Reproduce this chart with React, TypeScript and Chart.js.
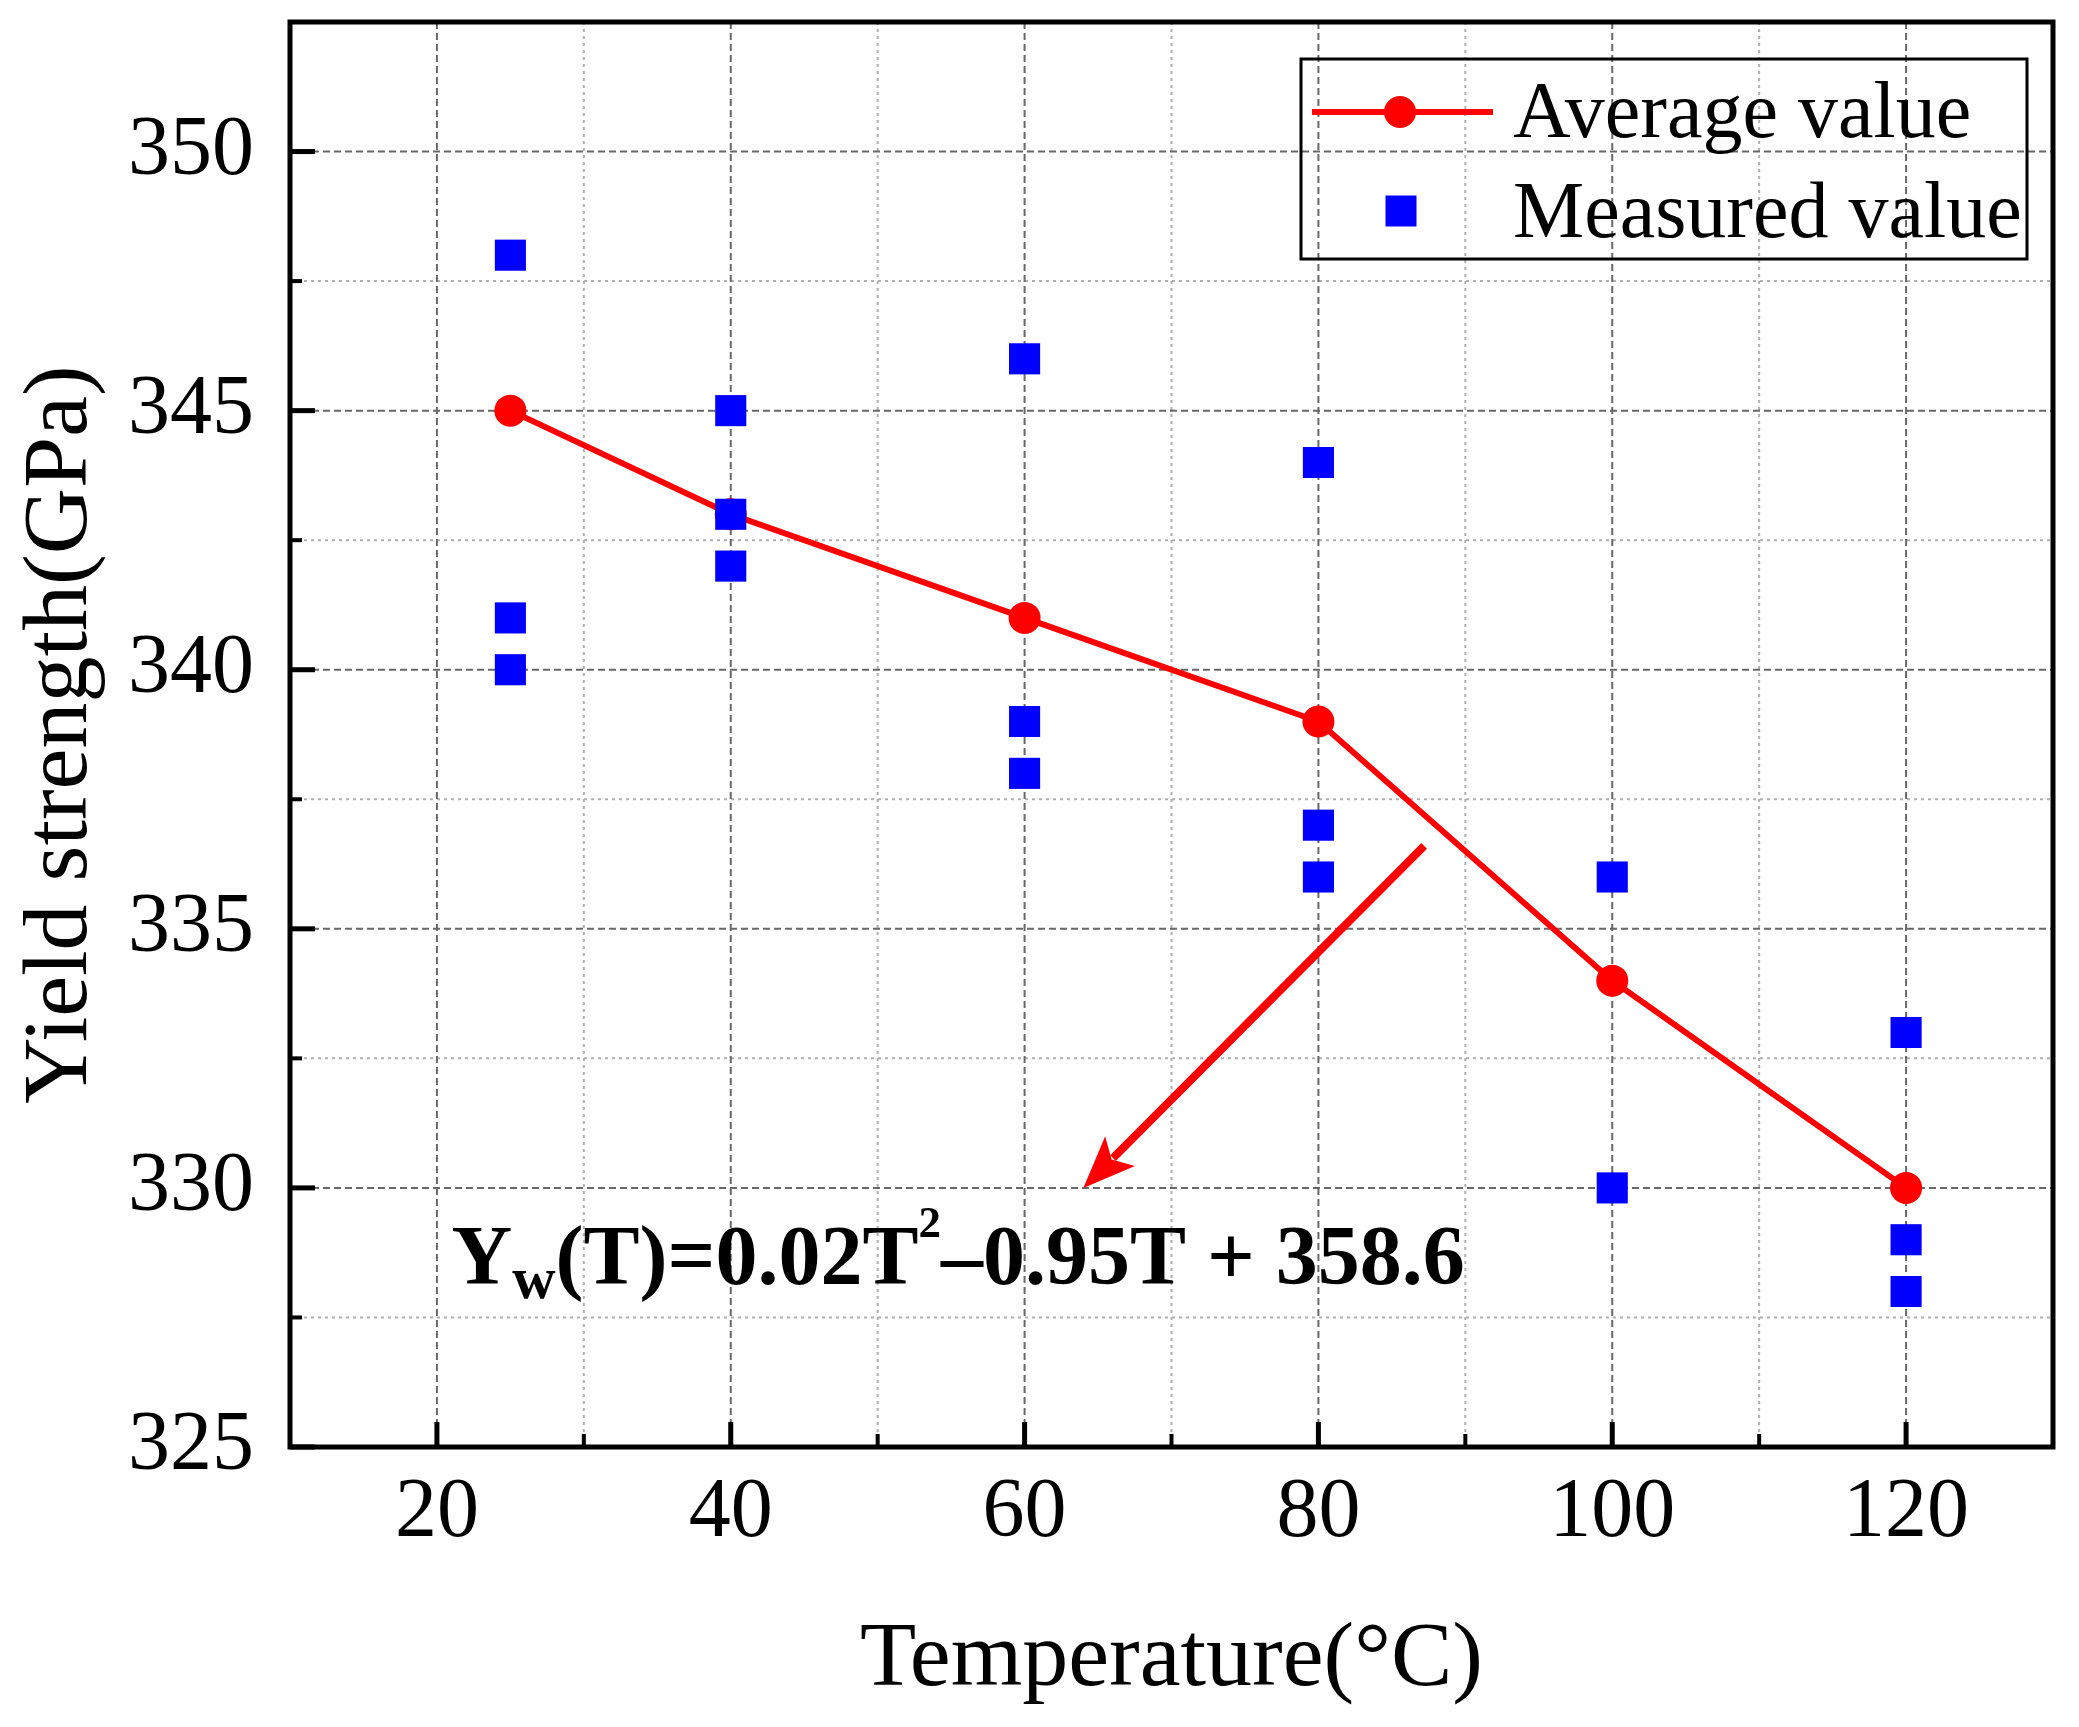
import { useEffect, useRef } from "react"
import { Chart, registerables } from "chart.js"

Chart.register(...registerables)

// Average yield strength per test temperature
const temperatures = [25, 40, 60, 80, 100, 120]
const averageValues = [345, 343, 341, 339, 334, 330]

// Individual measurements
const measuredTemperatures = [25, 25, 25, 40, 40, 40, 60, 60, 60, 80, 80, 80, 100, 100, 120, 120, 120]
const measuredValues = [348, 341, 340, 345, 343, 342, 346, 339, 338, 344, 337, 336, 336, 330, 333, 329, 328]

// Axis ticks
const xTickValues = [20, 40, 60, 80, 100, 120]
const xMinorValues = [30, 50, 70, 90, 110]
const yTickValues = [325, 330, 335, 340, 345, 350]
const yMinorValues = [327.5, 332.5, 337.5, 342.5, 347.5]

// Fit equation and arrow (data units)
const equationParts = [
  { text: "Y", size: 84, dy: 0 },
  { text: "w", size: 60, dy: 14 },
  { text: "(T)=0.02T", size: 84, dy: 0 },
  { text: "2", size: 45, dy: -47 },
  { text: "–0.95T + 358.6", size: 84, dy: 0 },
]
const equationAt = { x: 21, y: 328.15 }
const arrowFrom = { x: 87.2, y: 336.6 }
const arrowTo = { x: 64, y: 330 }

const serif = "'Liberation Serif', 'Times New Roman', Times, serif"
const RED = "#ff0000"
const BLUE = "#0000ff"

const decorations = {
  id: "decorations",
  beforeDatasetsDraw(chart: any) {
    const { ctx, chartArea: a, scales } = chart
    const xs = scales.x
    const ys = scales.y
    ctx.save()
    ctx.beginPath()
    ctx.rect(a.left, a.top, a.right - a.left, a.bottom - a.top)
    ctx.clip()
    ctx.lineWidth = 2
    const vLine = (v: number) => {
      const px = xs.getPixelForValue(v)
      ctx.beginPath()
      ctx.moveTo(px, a.top)
      ctx.lineTo(px, a.bottom)
      ctx.stroke()
    }
    const hLine = (v: number) => {
      const py = ys.getPixelForValue(v)
      ctx.beginPath()
      ctx.moveTo(a.left, py)
      ctx.lineTo(a.right, py)
      ctx.stroke()
    }
    // minor grid
    ctx.strokeStyle = "#b0b0b0"
    ctx.setLineDash([3, 4])
    xMinorValues.forEach(vLine)
    yMinorValues.forEach(hLine)
    // major grid
    ctx.strokeStyle = "#686868"
    ctx.setLineDash([7, 4])
    xTickValues.forEach(vLine)
    yTickValues.slice(1).forEach(hLine)
    ctx.restore()
  },
  afterDatasetsDraw(chart: any) {
    const { ctx, chartArea: a, scales } = chart
    const xs = scales.x
    const ys = scales.y
    ctx.save()
    ctx.setLineDash([])
    ctx.strokeStyle = "#000"

    // inward ticks
    const tick = (px: number, py: number, dx: number, dy: number, w: number) => {
      ctx.lineWidth = w
      ctx.beginPath()
      ctx.moveTo(px, py)
      ctx.lineTo(px + dx, py + dy)
      ctx.stroke()
    }
    xTickValues.forEach((v) => tick(xs.getPixelForValue(v), a.bottom, 0, -25, 5))
    xMinorValues.forEach((v) => tick(xs.getPixelForValue(v), a.bottom, 0, -13, 4))
    yTickValues.forEach((v) => tick(a.left, ys.getPixelForValue(v), 25, 0, 5))
    yMinorValues.forEach((v) => tick(a.left, ys.getPixelForValue(v), 12, 0, 4))

    // frame
    ctx.lineWidth = 5
    ctx.strokeRect(a.left, a.top, a.right - a.left, a.bottom - a.top)

    // arrow
    const x1 = xs.getPixelForValue(arrowFrom.x)
    const y1 = ys.getPixelForValue(arrowFrom.y)
    const x2 = xs.getPixelForValue(arrowTo.x)
    const y2 = ys.getPixelForValue(arrowTo.y)
    const ang = Math.atan2(y2 - y1, x2 - x1)
    const headLen = 52
    const headHalf = 21
    const bx = x2 - headLen * Math.cos(ang)
    const by = y2 - headLen * Math.sin(ang)
    ctx.strokeStyle = RED
    ctx.fillStyle = RED
    ctx.lineWidth = 8
    ctx.lineCap = "butt"
    ctx.beginPath()
    ctx.moveTo(x1, y1)
    ctx.lineTo(bx + 10 * Math.cos(ang), by + 10 * Math.sin(ang))
    ctx.stroke()
    ctx.beginPath()
    ctx.moveTo(x2, y2)
    ctx.lineTo(bx + headHalf * Math.sin(ang), by - headHalf * Math.cos(ang))
    ctx.lineTo(bx + 12 * Math.cos(ang), by + 12 * Math.sin(ang))
    ctx.lineTo(bx - headHalf * Math.sin(ang), by + headHalf * Math.cos(ang))
    ctx.closePath()
    ctx.fill()

    // equation
    let ex = xs.getPixelForValue(equationAt.x)
    const ey = ys.getPixelForValue(equationAt.y)
    ctx.fillStyle = "#000"
    ctx.textBaseline = "alphabetic"
    ctx.textAlign = "left"
    equationParts.forEach((p) => {
      ctx.font = `bold ${p.size}px ${serif}`
      ctx.fillText(p.text, ex, ey + p.dy)
      ex += ctx.measureText(p.text).width
    })

    // legend
    const datasets = chart.data.datasets
    const avg = datasets[1]
    const meas = datasets[0]
    ctx.lineWidth = 3
    ctx.strokeStyle = "#000"
    ctx.strokeRect(1301, 59, 726, 200)
    ctx.strokeStyle = RED
    ctx.lineWidth = 6
    ctx.beginPath()
    ctx.moveTo(1312, 112)
    ctx.lineTo(1493, 112)
    ctx.stroke()
    ctx.fillStyle = RED
    ctx.beginPath()
    ctx.arc(1400, 112, 16, 0, Math.PI * 2)
    ctx.fill()
    ctx.fillStyle = BLUE
    ctx.fillRect(1401 - 15.5, 211 - 15.5, 31, 31)
    ctx.fillStyle = "#000"
    ctx.font = `80px ${serif}`
    ctx.fillText(avg.label, 1513, 137)
    ctx.fillText(meas.label, 1513, 237)
    ctx.restore()
  },
}

export default function App() {
  const chartRef = useRef<HTMLCanvasElement>(null)

  useEffect(() => {
    if (!chartRef.current) return

    const chart = new Chart(chartRef.current, {
      type: "scatter",
      data: {
        datasets: [
          {
            label: "Measured value",
            data: measuredTemperatures.map((t, i) => ({ x: t, y: measuredValues[i] })),
            pointStyle: "rect",
            pointRadius: 22,
            pointBorderWidth: 0,
            backgroundColor: BLUE,
            borderColor: BLUE,
            showLine: false,
          },
          {
            label: "Average value",
            data: temperatures.map((t, i) => ({ x: t, y: averageValues[i] })),
            showLine: true,
            borderColor: RED,
            borderWidth: 6,
            backgroundColor: RED,
            pointStyle: "circle",
            pointRadius: 16,
            pointBorderWidth: 0,
          },
        ],
      },
      options: {
        responsive: true,
        maintainAspectRatio: false,
        animation: false,
        layout: { padding: { left: 0, top: 22, right: 26, bottom: 0 } },
        plugins: {
          legend: { display: false },
          tooltip: { enabled: false },
        },
        scales: {
          x: {
            type: "linear",
            min: 10,
            max: 130,
            afterBuildTicks: (s: any) => {
              s.ticks = xTickValues.map((v) => ({ value: v }))
            },
            afterFit: (s: any) => {
              s.height = 280
              s.paddingLeft = 0
              s.paddingRight = 0
            },
            grid: { display: false, drawTicks: false, tickLength: 0 },
            border: { display: false },
            ticks: {
              padding: 17,
              color: "#000",
              maxRotation: 0,
              autoSkip: false,
              font: { family: serif, size: 84 },
            },
            title: {
              display: true,
              text: "Temperature(°C)",
              color: "#000",
              font: { family: serif, size: 92 },
              padding: { top: 0, bottom: 11 },
            },
          },
          y: {
            type: "linear",
            min: 325,
            max: 352.5,
            afterBuildTicks: (s: any) => {
              s.ticks = yTickValues.map((v) => ({ value: v }))
            },
            afterFit: (s: any) => {
              s.width = 290
              s.paddingTop = 0
              s.paddingBottom = 0
            },
            grid: { display: false, drawTicks: false, tickLength: 0 },
            border: { display: false },
            ticks: {
              padding: 36,
              color: "#000",
              autoSkip: false,
              font: { family: serif, size: 84 },
            },
            title: {
              display: true,
              text: "Yield strength(GPa)",
              color: "#000",
              font: { family: serif, size: 92 },
              padding: { top: 7, bottom: 0 },
            },
          },
        },
      },
      plugins: [decorations],
    })

    return () => {
      chart.destroy()
    }
  }, [])

  return (
    <div style={{ position: "absolute", left: 0, top: 0, width: 2079, height: 1727, background: "#fff" }}>
      <canvas ref={chartRef} />
    </div>
  )
}
